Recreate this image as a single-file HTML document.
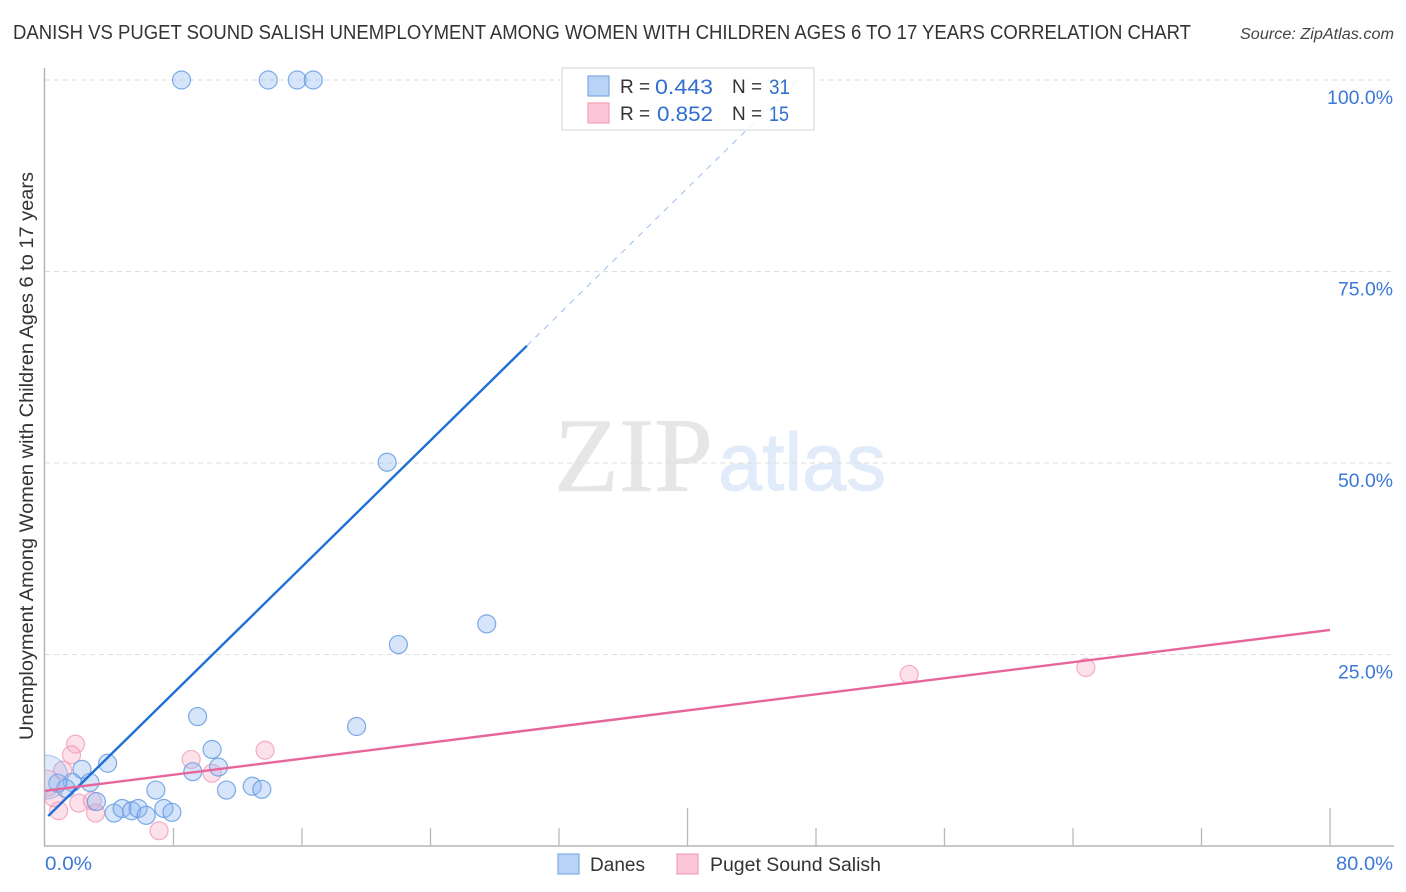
<!DOCTYPE html>
<html>
<head>
<meta charset="utf-8">
<style>
html,body{margin:0;padding:0;background:#fff;}
svg{display:block;}
text{font-family:"Liberation Sans",sans-serif;}
</style>
</head>
<body>
<svg id="chart" width="1406" height="892" viewBox="0 0 1406 892" xmlns="http://www.w3.org/2000/svg">
  <defs>
    <clipPath id="plot-clip"><rect x="44.5" y="60" width="1350" height="786"/></clipPath>
  </defs>
  <text x="13" y="39" font-size="20" fill="#333" textLength="1178" lengthAdjust="spacingAndGlyphs">DANISH VS PUGET SOUND SALISH UNEMPLOYMENT AMONG WOMEN WITH CHILDREN AGES 6 TO 17 YEARS CORRELATION CHART</text>
  <text x="1394" y="39" font-size="15.5" font-style="italic" fill="#444" text-anchor="end" textLength="154" lengthAdjust="spacingAndGlyphs">Source: ZipAtlas.com</text>
  <g>
    <text x="554" y="491" font-size="106" fill="#e6e6e6" stroke="#e6e6e6" stroke-width="0.6" style="font-family:'Liberation Serif',serif" textLength="159" lengthAdjust="spacingAndGlyphs">ZIP</text>
    <text x="718" y="490" font-size="82" fill="#e1ebf9" stroke="#e1ebf9" stroke-width="1" textLength="168" lengthAdjust="spacingAndGlyphs">atlas</text>
  </g>
  <g id="grid"></g>
  <g id="axes"></g>
  <g id="marks" clip-path="url(#plot-clip)"></g>
  <g id="lines"></g>
  <text transform="translate(33,456) rotate(-90)" font-size="19" fill="#333" text-anchor="middle" textLength="568" lengthAdjust="spacingAndGlyphs">Unemployment Among Women with Children Ages 6 to 17 years</text>
  <g>
    <rect x="562" y="68" width="252" height="62" fill="#fff" fill-opacity="0.82" stroke="#e2e2e2" stroke-width="1.5"/>
    <rect x="588" y="76" width="21" height="20" fill="#b9d3f7" stroke="#7fabe3" stroke-width="1.2"/>
    <rect x="588" y="103" width="21" height="20" fill="#fcc6d8" stroke="#f2a0b9" stroke-width="1.2"/>
    <text x="620" y="93" font-size="19" fill="#333">R =</text>
    <text x="655" y="94" font-size="21" fill="#2f6fd0" textLength="58" lengthAdjust="spacingAndGlyphs">0.443</text>
    <text x="732" y="93" font-size="19" fill="#333">N =</text>
    <text x="769" y="94" font-size="21" fill="#2f6fd0" textLength="21" lengthAdjust="spacingAndGlyphs">31</text>
    <text x="620" y="120" font-size="19" fill="#333">R =</text>
    <text x="657" y="121" font-size="21" fill="#2f6fd0" textLength="56" lengthAdjust="spacingAndGlyphs">0.852</text>
    <text x="732" y="120" font-size="19" fill="#333">N =</text>
    <text x="769" y="121" font-size="21" fill="#2f6fd0" textLength="20" lengthAdjust="spacingAndGlyphs">15</text>
  </g>
  <g>
    <rect x="558" y="854" width="21" height="20" fill="#b9d3f7" stroke="#7fabe3" stroke-width="1.2"/>
    <text x="590" y="871" font-size="19.5" fill="#333" textLength="55" lengthAdjust="spacingAndGlyphs">Danes</text>
    <rect x="677" y="854" width="21" height="20" fill="#fcc6d8" stroke="#f2a0b9" stroke-width="1.2"/>
    <text x="710" y="871" font-size="19.5" fill="#333" textLength="171" lengthAdjust="spacingAndGlyphs">Puget Sound Salish</text>
  </g>
</svg>
<script>
// Chart data, in axis units (percent)
const xTicks = [0, 8, 16, 24, 32, 40, 48, 56, 64, 72, 80];
const majorXTicks = [0, 40, 80];
const yTicks = [25, 50, 75, 100];
const xTickLabels = ["0.0%", "80.0%"];
const yTickLabels = ["25.0%", "50.0%", "75.0%", "100.0%"];

const danesX = [8.5, 13.9, 15.7, 16.7, 21.3, 22.0, 27.5, 9.5, 19.4, 10.4, 3.9, 2.3, 9.2, 10.8, 6.9, 11.3, 12.9, 13.5, 2.8, 1.7, 0.8, 1.3, 3.2, 4.3, 4.8, 5.4, 5.8, 6.3, 7.4, 7.9, 0.05];
const danesY = [100, 100, 100, 100, 50.1, 26.3, 29.0, 16.9, 15.6, 12.6, 10.8, 10.0, 9.7, 10.3, 7.3, 7.3, 7.8, 7.4, 8.3, 8.3, 8.2, 7.5, 5.8, 4.3, 4.9, 4.6, 4.9, 4.0, 4.9, 4.4, 9.0];
const danesR = [9, 9, 9, 9, 9, 9, 9, 9, 9, 9, 9, 9, 9, 9, 9, 9, 9, 9, 9, 9, 9, 9, 9, 9, 9, 9, 9, 9, 9, 9, 22];

const pugetX = [53.8, 64.8, 13.7, 9.1, 10.4, 1.9, 1.65, 1.1, 2.1, 2.95, 3.15, 0.85, 0.55, 7.1, 0.1];
const pugetY = [22.4, 23.3, 12.5, 11.3, 9.5, 13.3, 11.9, 9.9, 5.6, 5.9, 4.3, 4.6, 6.3, 2.0, 8.2];
const pugetR = [9, 9, 9, 9, 9, 9, 9, 9, 9, 9, 9, 9, 9, 9, 13];

const danesFit = { intercept: 3.5, slope: 2.06, solidEnd: 30, dashEnd: 46.8 };
const pugetFit = { intercept: 7.2, slope: 0.2625, solidEnd: 80 };

// Axis functions
const X0 = 45, X80 = 1330, Y0 = 846, Y100 = 80;
const sx = v => X0 + (v / 80) * (X80 - X0);
const sy = v => Y0 - (v / 100) * (Y0 - Y100);

const NS = 'http://www.w3.org/2000/svg';
function make(tag, parent, attrs) {
  const el = document.createElementNS(NS, tag);
  for (const k in attrs) el.setAttribute(k, attrs[k]);
  parent.appendChild(el);
  return el;
}

const grid = document.getElementById('grid');
const axes = document.getElementById('axes');
const marks = document.getElementById('marks');
const lines = document.getElementById('lines');

yTicks.forEach((t, i) => {
  const g = make('line', grid, { x1: X0, x2: 1393, y1: sy(t), y2: sy(t), stroke: '#dedede', 'stroke-width': 1, 'stroke-dasharray': '5 4' });
  
  
  const lab = make('text', axes, { x: 1393, y: sy(t) + 24, 'font-size': 19, fill: '#3b78d8', 'text-anchor': 'end', textLength: t === 100 ? 66 : 55, lengthAdjust: 'spacingAndGlyphs' });
  
  
  lab.textContent = yTickLabels[i];
});

const yAxis = make('line', axes, { x1: 44.5, x2: 44.5, y1: 68, y2: 846, stroke: '#b5b5b5', 'stroke-width': 1.5 });


const xAxis = make('line', axes, { x1: 44, x2: 1394, y1: 846, y2: 846, stroke: '#b5b5b5', 'stroke-width': 1.5 });



xTicks.slice(1).forEach(t => {
  const top = majorXTicks.includes(t) ? 808 : 828;
  const tick = make('line', axes, { x1: sx(t), x2: sx(t), y1: top, y2: 846, stroke: '#b9b9b9', 'stroke-width': 1.3 });
  
  
});

const xLab0 = make('text', axes, { x: 45, y: 870, 'font-size': 19, fill: '#3b78d8', textLength: 47, lengthAdjust: 'spacingAndGlyphs' });


xLab0.textContent = xTickLabels[0];
const xLab1 = make('text', axes, { x: 1393, y: 870, 'font-size': 19, fill: '#3b78d8', 'text-anchor': 'end', textLength: 57, lengthAdjust: 'spacingAndGlyphs' });


xLab1.textContent = xTickLabels[1];

pugetX.forEach((v, i) => {
  const big = pugetR[i] > 9;
  const c = make('circle', marks, { cx: sx(v), cy: sy(pugetY[i]), r: pugetR[i], fill: '#f9a8c4', 'fill-opacity': big ? 0.25 : 0.35, stroke: '#ee8fae', 'stroke-opacity': 0.7, 'stroke-width': 1.2 });
  
  
});
danesX.forEach((v, i) => {
  const big = danesR[i] > 9;
  const c = make('circle', marks, { cx: sx(v), cy: sy(danesY[i]), r: danesR[i], fill: '#8db8f0', 'fill-opacity': big ? 0.28 : 0.36, stroke: '#5f97e0', 'stroke-opacity': big ? 0.45 : 0.8, 'stroke-width': 1.2 });
  
  
});

const fitY = (fit, x) => fit.intercept + fit.slope * x;

const danesDash = make('line', lines, { x1: sx(danesFit.solidEnd), y1: sy(fitY(danesFit, danesFit.solidEnd)), x2: sx(danesFit.dashEnd), y2: sy(fitY(danesFit, danesFit.dashEnd)), stroke: '#1f6fd6', 'stroke-opacity': 0.45, 'stroke-width': 1, 'stroke-dasharray': '6 6' });


const danesLine = make('line', lines, { x1: sx(0.2), y1: sy(fitY(danesFit, 0.2)), x2: sx(danesFit.solidEnd), y2: sy(fitY(danesFit, danesFit.solidEnd)), stroke: '#1f6fd6', 'stroke-width': 2.4 });


const pugetLine = make('line', lines, { x1: sx(0), y1: sy(fitY(pugetFit, 0)), x2: sx(pugetFit.solidEnd), y2: sy(fitY(pugetFit, pugetFit.solidEnd)), stroke: '#e8659a', 'stroke-width': 2.4 });


</script>
</body>
</html>
